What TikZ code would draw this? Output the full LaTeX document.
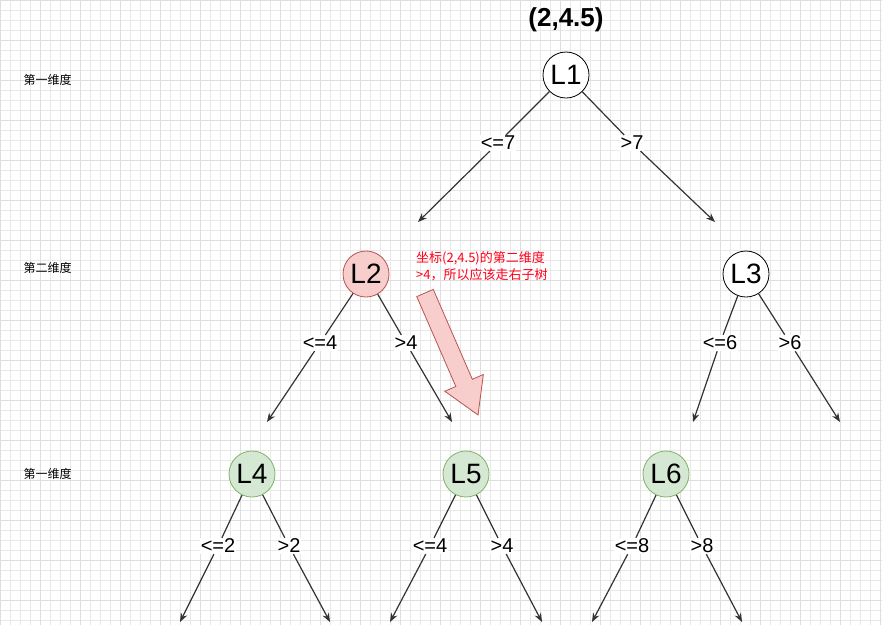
\documentclass[tikz,border=0pt]{standalone}
\usepackage{fontspec}
\setmainfont{Liberation Sans}
\newfontfamily\cjk{Noto Sans CJK SC}
\usetikzlibrary{arrows.meta}
\definecolor{gridc}{RGB}{232,232,232}
\definecolor{pinkfill}{RGB}{248,206,204}
\definecolor{pinkline}{RGB}{184,84,80}
\definecolor{greenfill}{RGB}{213,232,212}
\definecolor{greenline}{RGB}{130,179,102}
\begin{document}
\begin{tikzpicture}[x=1pt,y=-1pt,>={Stealth[length=9pt,width=7pt]},
    tree node/.style={circle,draw,thick,minimum size=46pt,inner sep=0pt,font=\fontsize{28}{30}\selectfont},
    cond/.style={inner sep=1pt,fill=white,font=\fontsize{20}{22}\selectfont},
    link/.style={draw=black!80,line width=1.2pt},
    level label/.style={font=\cjk\fontsize{12}{14}\selectfont,anchor=west}]
  \useasboundingbox (0,0) rectangle (882,625);
  % background grid
  \foreach \g in {0,10,...,880} \draw[gridc,line width=0.5pt] (\g,0) -- (\g,625);
  \foreach \g in {0,10,...,620} \draw[gridc,line width=0.5pt] (0,\g) -- (882,\g);
  \foreach \g in {0,40,...,880} \draw[black!13,line width=0.6pt] (\g,0) -- (\g,625);
  \foreach \g in {0,40,...,620} \draw[black!13,line width=0.6pt] (0,\g) -- (882,\g);
  % title and level labels
  \node[font=\bfseries\fontsize{26}{28}\selectfont] (title) at (566,20) {(2,4.5)};
  \node[level label] (lv1) at (20,80) {第一维度};
  \node[level label] (lv2) at (20,268) {第二维度};
  \node[level label] (lv3) at (20,474) {第一维度};
  % tree nodes
  \node[tree node,fill=white] (L1) at (566,75) {L1};
  \node[tree node,fill=pinkfill,draw=pinkline] (L2) at (366,274) {L2};
  \node[tree node,fill=white] (L3) at (746,274) {L3};
  \node[tree node,fill=greenfill,draw=greenline] (L4) at (252,474) {L4};
  \node[tree node,fill=greenfill,draw=greenline] (L5) at (466,474) {L5};
  \node[tree node,fill=greenfill,draw=greenline] (L6) at (666,474) {L6};
  % branches: parent / name / label / label pos / arrow end
  \foreach \p/\n/\t/\lx/\ly/\ex/\ey in {
      L1/a/{<=7}/498/143/418/222, L1/b/{>7}/632/143/715/222,
      L2/c/{<=4}/320/343/267/422, L2/d/{>4}/406/343/452/422,
      L3/e/{<=6}/720/343/693/422, L3/f/{>6}/790/343/840/422,
      L4/g/{<=2}/218/546/180/622, L4/h/{>2}/289/546/330/622,
      L5/i/{<=4}/430/546/390/622, L5/j/{>4}/502/546/542/622,
      L6/k/{<=8}/632/546/592/622, L6/l/{>8}/702/546/742/622}{
    \node[cond] (c\n) at (\lx,\ly) {\t};
    \coordinate (e\n) at (\ex,\ey);
    \path[link] (\p) -- (c\n);
    \draw[link,->] (c\n) -- (e\n);
  }
  % hint
  \node[anchor=north west,align=left,text=red!90!magenta,inner sep=0pt,
        font=\cjk\fontsize{13}{17}\selectfont] (hint) at (416,251)
        {坐标(2,4.5)的第二维度\\>4，所以应该走右子树};
  \begin{scope}[shift={(425,293)},rotate=-66.5]
    \draw[pinkline,fill=pinkfill,line width=0.8pt]
      (0,-9) -- (98,-9) -- (98,-21) -- (133,0) -- (98,21) -- (98,9) -- (0,9) -- cycle;
  \end{scope}
\end{tikzpicture}
\end{document}
